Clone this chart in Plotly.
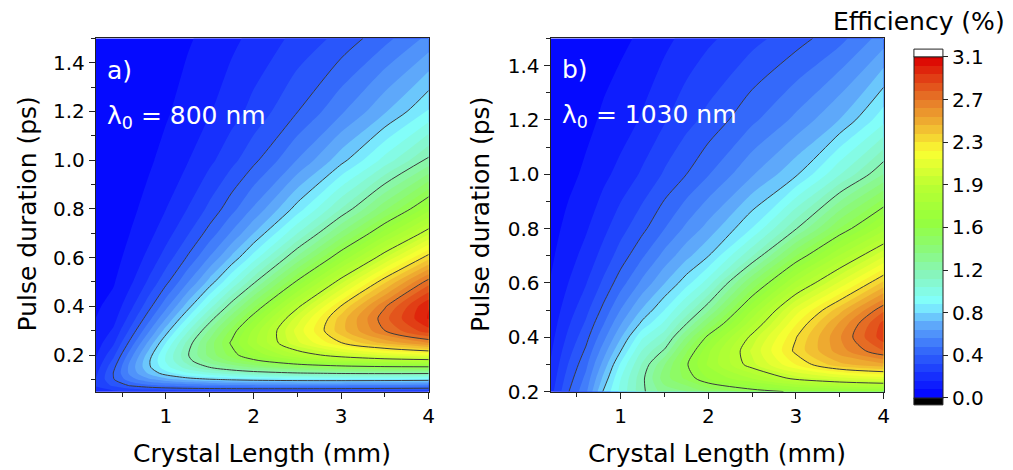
import plotly.graph_objects as go

# ---------------- data ----------------
crystal_length = [0.2, 0.4, 0.6, 0.8, 1.0, 1.25, 1.5, 1.75, 2.0, 2.5, 3.0, 3.5, 4.0]

# panel a) lambda0 = 800 nm : efficiency (%) per pulse duration row
pulse_a = [0.05, 0.075, 0.1, 0.125, 0.15, 0.175, 0.2, 0.25, 0.3, 0.35, 0.4,
           0.5, 0.6, 0.7, 0.8, 1.0, 1.2, 1.5]
eff_a = [
    [0.20, 0.211, 0.235, 0.248, 0.255, 0.261, 0.264, 0.265, 0.265, 0.262, 0.257, 0.251, 0.244],
    [0.24, 0.325, 0.398, 0.443, 0.473, 0.497, 0.512, 0.521, 0.526, 0.529, 0.526, 0.518, 0.506],
    [0.235, 0.381, 0.513, 0.604, 0.670, 0.728, 0.768, 0.796, 0.816, 0.837, 0.842, 0.838, 0.826],
    [0.215, 0.389, 0.568, 0.707, 0.815, 0.918, 0.993, 1.050, 1.093, 1.147, 1.173, 1.181, 1.176],
    [0.19, 0.365, 0.577, 0.755, 0.902, 1.050, 1.166, 1.258, 1.330, 1.431, 1.490, 1.519, 1.528],
    [0.165, 0.328, 0.554, 0.759, 0.937, 1.126, 1.282, 1.410, 1.516, 1.671, 1.772, 1.833, 1.864],
    [0.145, 0.289, 0.513, 0.732, 0.934, 1.155, 1.345, 1.507, 1.645, 1.858, 2.007, 2.106, 2.166],
    [0.115, 0.218, 0.418, 0.635, 0.852, 1.112, 1.351, 1.566, 1.757, 2.076, 2.322, 2.505, 2.637],
    [0.093, 0.166, 0.333, 0.527, 0.734, 0.996, 1.253, 1.497, 1.724, 2.124, 2.450, 2.712, 2.917],
    [0.078, 0.128, 0.265, 0.432, 0.618, 0.864, 1.116, 1.364, 1.605, 2.052, 2.439, 2.765, 3.031],
    [0.066, 0.103, 0.213, 0.355, 0.517, 0.739, 0.974, 1.213, 1.451, 1.911, 2.331, 2.702, 3.020],
    [0.048, 0.070, 0.143, 0.244, 0.365, 0.538, 0.729, 0.932, 1.142, 1.571, 1.992, 2.390, 2.755],
    [0.036, 0.050, 0.105, 0.175, 0.266, 0.398, 0.549, 0.713, 0.888, 1.258, 1.637, 2.013, 2.373],
    [0.028, 0.038, 0.080, 0.130, 0.199, 0.302, 0.421, 0.553, 0.696, 1.005, 1.333, 1.668, 1.998],
    [0.022, 0.029, 0.063, 0.0997, 0.154, 0.235, 0.330, 0.437, 0.553, 0.810, 1.088, 1.379, 1.672],
    [0.014, 0.0185, 0.042, 0.066, 0.100, 0.151, 0.214, 0.286, 0.366, 0.545, 0.745, 0.960, 1.182],
    [0.009, 0.0127, 0.030, 0.046, 0.069, 0.106, 0.150, 0.200, 0.257, 0.385, 0.528, 0.688, 0.860],
    [0.005, 0.0077, 0.019, 0.029, 0.045, 0.070, 0.098, 0.138, 0.175, 0.255, 0.335, 0.440, 0.564],
]

# panel b) lambda0 = 1030 nm
pulse_b = [0.2, 0.25, 0.3, 0.35, 0.4, 0.45, 0.5, 0.6, 0.7, 0.8, 1.0, 1.2, 1.5]
eff_b = [
    [0.20, 0.38, 0.52, 0.78, 0.953, 1.145, 1.28, 1.313, 1.41, 1.50, 1.57, 1.60, 1.62],
    [0.179, 0.345, 0.482, 0.712, 0.927, 1.143, 1.359, 1.495, 1.633, 1.79, 1.98, 2.08, 2.14],
    [0.161, 0.311, 0.441, 0.644, 0.865, 1.098, 1.313, 1.537, 1.719, 1.99, 2.25, 2.46, 2.54],
    [0.143, 0.279, 0.399, 0.577, 0.772, 1.017, 1.177, 1.46, 1.689, 2.03, 2.35, 2.60, 2.79],
    [0.128, 0.248, 0.358, 0.514, 0.689, 0.92, 1.055, 1.32, 1.581, 1.97, 2.32, 2.627, 2.913],
    [0.114, 0.221, 0.320, 0.457, 0.613, 0.80, 0.948, 1.16, 1.398, 1.839, 2.24, 2.572, 2.896],
    [0.101, 0.196, 0.285, 0.407, 0.545, 0.71, 0.853, 1.03, 1.228, 1.706, 2.13, 2.449, 2.776],
    [0.081, 0.154, 0.226, 0.323, 0.431, 0.564, 0.694, 0.82, 0.969, 1.402, 1.802, 2.11, 2.423],
    [0.064, 0.122, 0.181, 0.259, 0.345, 0.455, 0.568, 0.674, 0.771, 1.078, 1.470, 1.791, 2.079],
    [0.051, 0.097, 0.145, 0.210, 0.282, 0.368, 0.464, 0.560, 0.649, 0.856, 1.156, 1.476, 1.754],
    [0.030, 0.058, 0.090, 0.135, 0.180, 0.245, 0.320, 0.387, 0.460, 0.611, 0.761, 1.002, 1.241],
    [0.019, 0.036, 0.058, 0.088, 0.115, 0.165, 0.225, 0.284, 0.334, 0.448, 0.562, 0.700, 0.905],
    [0.010, 0.018, 0.030, 0.045, 0.063, 0.090, 0.135, 0.178, 0.218, 0.285, 0.355, 0.440, 0.580],
]

cbar_ticks = [0.0, 0.3875, 0.775, 1.1625, 1.55, 1.9375, 2.325, 2.7125, 3.1]
cbar_labels = ["0.0", "0.4", "0.8", "1.2", "1.6", "1.9", "2.3", "2.7", "3.1"]
x_ticks = [1, 2, 3, 4]
y_ticks = [0.2, 0.4, 0.6, 0.8, 1.0, 1.2, 1.4]

# ---------------- styling ----------------
W, H = 1013, 470
# the page is displayed slightly smaller than the layout size; place items for that
W_EFF, H_EFF = 1006, 457
FONT = "DejaVu Sans"
colorscale = [
    [0.000, "rgb(0,0,255)"],
    [0.125, "rgb(45,95,250)"],
    [0.215, "rgb(95,170,250)"],
    [0.280, "rgb(130,255,255)"],
    [0.360, "rgb(135,245,190)"],
    [0.450, "rgb(140,250,110)"],
    [0.520, "rgb(150,255,60)"],
    [0.620, "rgb(185,255,50)"],
    [0.720, "rgb(250,255,50)"],
    [0.800, "rgb(240,180,50)"],
    [0.875, "rgb(230,120,40)"],
    [0.940, "rgb(225,60,20)"],
    [1.000, "rgb(220,0,0)"],
]


def fx(p):
    return p / W_EFF


def fy(p):
    return 1 - p / H_EFF


fig = go.Figure()
panels = [(pulse_a, eff_a, "x", "y", True), (pulse_b, eff_b, "x2", "y2", False)]
for pulse, eff, xa, ya, show in panels:
    fig.add_trace(go.Contour(
        x=crystal_length, y=pulse, z=eff, xaxis=xa, yaxis=ya,
        zmin=0, zmax=3.1, autocontour=False,
        contours=dict(start=0, end=3.1, size=0.0775, coloring="fill", showlines=False),
        line=dict(width=0, smoothing=0.8), colorscale=colorscale, showscale=show,
        colorbar=dict(
            x=fx(913), xanchor="left", y=fy(227), yanchor="middle",
            len=340 / H_EFF, lenmode="fraction", thickness=29, thicknessmode="pixels",
            outlinewidth=1, outlinecolor="#222", xpad=0, ypad=0,
            tickmode="array", tickvals=cbar_ticks, ticktext=cbar_labels,
            ticks="outside", ticklen=5, tickcolor="#222",
            tickfont=dict(family=FONT, size=20, color="black"),
        ),
        hoverinfo="skip",
    ))
    fig.add_trace(go.Contour(
        x=crystal_length, y=pulse, z=eff, xaxis=xa, yaxis=ya,
        autocontour=False,
        contours=dict(start=0.3875, end=2.72, size=0.3875, coloring="none"),
        line=dict(color="#3c3c3c", width=1, smoothing=0.8), showscale=False, hoverinfo="skip",
    ))

axis_common = dict(
    showline=True, mirror=True, linecolor="#222", linewidth=1,
    ticks="outside", ticklen=6, tickwidth=1, tickcolor="#222",
    tickfont=dict(family=FONT, size=20, color="black"),
    showgrid=False, zeroline=False,
)
xdom_a = [fx(95.7), fx(428.3)]
xdom_b = [fx(550), fx(882.7)]
ydom = [fy(390.7), fy(38.3)]

fig.update_layout(
    width=W, height=H, autosize=False, margin=dict(l=0, r=0, t=0, b=0, pad=0),
    paper_bgcolor="white", plot_bgcolor="white", showlegend=False,
    xaxis=dict(domain=xdom_a, range=[0.2, 4.0], anchor="y", tickmode="array", tickvals=x_ticks,
               minor=dict(tickvals=[0.5, 1.5, 2.5, 3.5], ticks="outside", ticklen=4, tickcolor="#222"),
               **axis_common),
    yaxis=dict(domain=ydom, range=[0.05, 1.5], anchor="x", tickmode="array", tickvals=y_ticks,
               tickformat=".1f",
               minor=dict(tickvals=[0.1, 0.3, 0.5, 0.7, 0.9, 1.1, 1.3, 1.5], ticks="outside", ticklen=4,
                          tickcolor="#222"),
               **axis_common),
    xaxis2=dict(domain=xdom_b, range=[0.2, 4.0], anchor="y2", tickmode="array", tickvals=x_ticks,
                minor=dict(tickvals=[0.5, 1.5, 2.5, 3.5], ticks="outside", ticklen=4, tickcolor="#222"),
                **axis_common),
    yaxis2=dict(domain=ydom, range=[0.2, 1.5], anchor="x2", tickmode="array", tickvals=y_ticks,
                tickformat=".1f",
                minor=dict(tickvals=[0.3, 0.5, 0.7, 0.9, 1.1, 1.3, 1.5], ticks="outside", ticklen=4,
                           tickcolor="#222"),
                **axis_common),
)

title_font = dict(family=FONT, size=25, color="black")
label_font = dict(family=FONT, size=25, color="white")
annotations = [
    dict(text="Crystal Length (mm)", x=fx(262), y=fy(453), font=title_font),
    dict(text="Crystal Length (mm)", x=fx(716), y=fy(453), font=title_font),
    dict(text="Pulse duration (ps)", x=fx(27), y=fy(214), font=title_font, textangle=-90),
    dict(text="Pulse duration (ps)", x=fx(480), y=fy(214), font=title_font, textangle=-90),
    dict(text="Efficiency (%)", x=fx(1006), y=fy(21), font=title_font, xanchor="right"),
    dict(text="a)", x=fx(105), y=fy(70), font=label_font, xanchor="left"),
    dict(text="λ<sub>0</sub> = 800 nm", x=fx(105), y=fy(117), font=label_font, xanchor="left"),
    dict(text="b)", x=fx(559), y=fy(69), font=label_font, xanchor="left"),
    dict(text="λ<sub>0</sub> = 1030 nm", x=fx(559), y=fy(116), font=label_font, xanchor="left"),
]
for a in annotations:
    a.setdefault("xanchor", "center")
    fig.add_annotation(xref="paper", yref="paper", showarrow=False, yanchor="middle", **a)

# over/under caps of the colour bar
fig.add_shape(type="rect", xref="paper", yref="paper", x0=fx(913), x1=fx(942), y0=fy(57), y1=fy(49),
              fillcolor="white", line=dict(color="#222", width=1))
fig.add_shape(type="rect", xref="paper", yref="paper", x0=fx(913), x1=fx(942), y0=fy(404), y1=fy(397),
              fillcolor="black", line=dict(color="#222", width=1))

fig.write_html("out.html", config={"responsive": False})
